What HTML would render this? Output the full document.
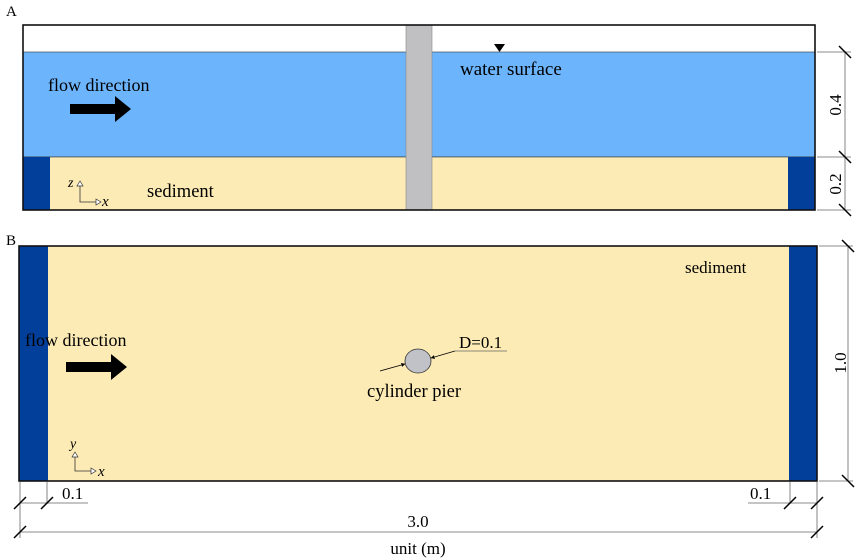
<!DOCTYPE html>
<html><head><meta charset="utf-8"><style>body{margin:0;background:#fff}svg{display:block}text{font-family:"Liberation Serif",serif;fill:#000}</style></head><body>
<svg width="858" height="560" viewBox="0 0 858 560" xmlns="http://www.w3.org/2000/svg">
<defs><marker id="ah" viewBox="0 0 10 10" refX="9" refY="5" markerWidth="5" markerHeight="5" orient="auto-start-reverse"><path d="M0,0L10,5L0,10z" fill="#000"/></marker></defs>
<text x="6" y="16" font-size="15">A</text>
<rect x="23" y="25" width="792" height="185" fill="#fff"/>
<rect x="23" y="52" width="792" height="105" fill="#6cb4fc" stroke="#333" stroke-width="0.6"/>
<rect x="23" y="157" width="792" height="53" fill="#fdebb5" stroke="#333" stroke-width="0.6"/>
<rect x="23" y="157" width="27" height="53" fill="#023f9a"/>
<rect x="788" y="157" width="27" height="53" fill="#023f9a"/>
<rect x="406" y="25" width="26" height="185" fill="#c0c0c2" stroke="#888" stroke-width="0.6"/>
<rect x="23" y="25" width="792" height="185" fill="none" stroke="#111" stroke-width="1.6"/>
<path d="M494,44h11l-5.5,8z" fill="#000"/>
<text x="460" y="75" font-size="19">water surface</text>
<text x="48" y="91" font-size="18">flow direction</text>
<path d="M70,104h45v-8l16,13-16,13v-8h-45z" fill="#000"/>
<text x="147" y="197" font-size="18.5">sediment</text>
<text x="68" y="187" font-size="14" font-style="italic">z</text>
<path d="M80,185v17h16" fill="none" stroke="#333" stroke-width="0.8"/>
<path d="M77,186l3,-5l3,5z M96,199l5,3l-5,3z" fill="#fff" stroke="#333" stroke-width="0.7"/>
<text x="102" y="206" font-size="15" font-style="italic">x</text>
<g stroke="#666" stroke-width="0.8"><path d="M817,52h34M817,157h34M817,210h34M845,52v158"/></g>
<g stroke="#000" stroke-width="1.5"><path d="M839,46l12,12M839,151l12,12M839,204l12,12"/></g>
<text transform="translate(841,105) rotate(-90)" font-size="17" text-anchor="middle">0.4</text>
<text transform="translate(841,184) rotate(-90)" font-size="17" text-anchor="middle">0.2</text>

<text x="6" y="245" font-size="15">B</text>
<rect x="19" y="246" width="798" height="235" fill="#fdebb5"/>
<rect x="19" y="246" width="29" height="235" fill="#023f9a"/>
<rect x="789" y="246" width="28" height="235" fill="#023f9a"/>
<rect x="19" y="246" width="798" height="235" fill="none" stroke="#111" stroke-width="1.6"/>
<text x="685" y="273" font-size="17">sediment</text>
<text x="25" y="346" font-size="18">flow direction</text>
<path d="M66,362h45v-8l16,13-16,13v-8h-45z" fill="#000"/>
<ellipse cx="418" cy="361" rx="13" ry="12" fill="#c0c2c8" stroke="#333" stroke-width="0.8"/>
<path d="M380,371L405,364" stroke="#000" stroke-width="0.8" marker-end="url(#ah)"/>
<path d="M455,351L431,358" stroke="#000" stroke-width="0.8" marker-end="url(#ah)"/>
<path d="M455,351h52" stroke="#666" stroke-width="0.8"/>
<text x="459" y="348" font-size="17">D=0.1</text>
<text x="367" y="397" font-size="18.5">cylinder pier</text>
<text x="70" y="448" font-size="14" font-style="italic">y</text>
<path d="M75,455v16h16" fill="none" stroke="#333" stroke-width="0.8"/>
<path d="M72,457l3,-5l3,5z M91,468l5,3l-5,3z" fill="#fff" stroke="#333" stroke-width="0.7"/>
<text x="98" y="476" font-size="15" font-style="italic">x</text>
<g stroke="#666" stroke-width="0.8"><path d="M819,246h34M819,481h34M848,246v235"/>
<path d="M20,482v56M47,482v22M20,503h68M790,482v22M817,482v56M748,503h69M20,532h797"/></g>
<g stroke="#000" stroke-width="1.5"><path d="M842,240l12,12M842,475l12,12M14,509l12,-12M41,509l12,-12M784,509l12,-12M811,509l12,-12M14,538l12,-12M811,538l12,-12"/></g>
<text transform="translate(846,363) rotate(-90)" font-size="17" text-anchor="middle">1.0</text>
<text x="62" y="499" font-size="17">0.1</text>
<text x="750" y="499" font-size="17">0.1</text>
<text x="418" y="527" font-size="17" text-anchor="middle">3.0</text>
<text x="418" y="554" font-size="17" text-anchor="middle">unit (m)</text>
</svg>
</body></html>
